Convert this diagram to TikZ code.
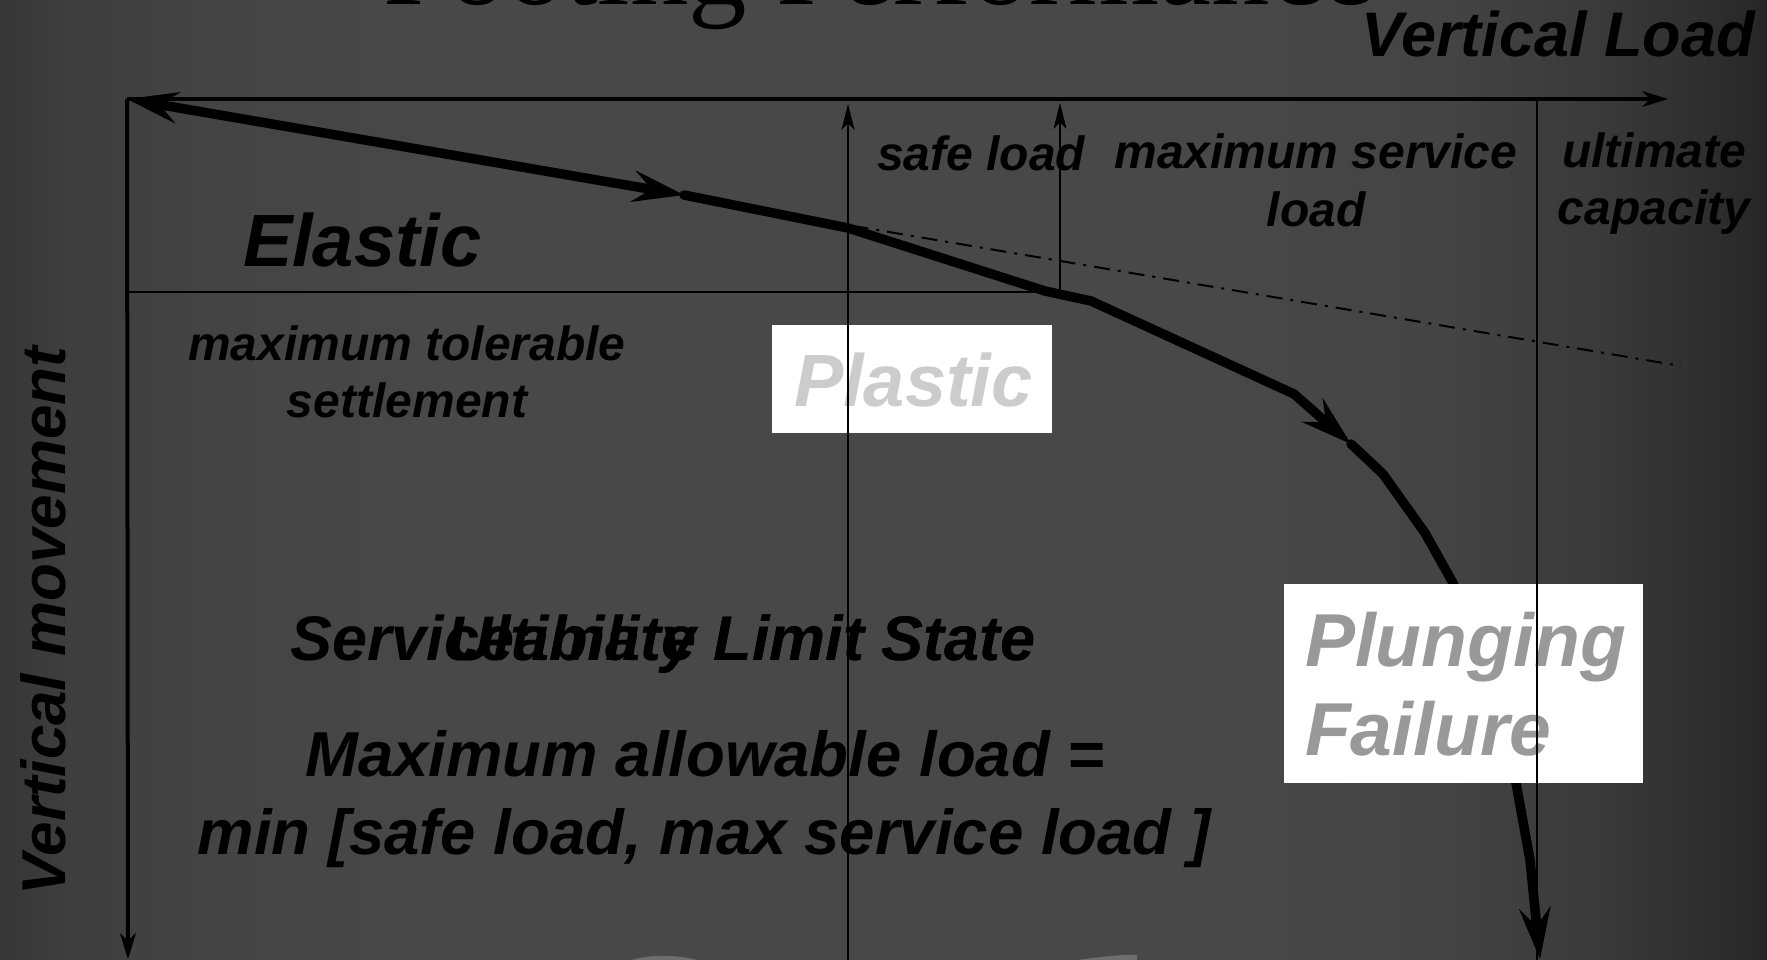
\documentclass[tikz,border=0pt]{standalone}
\usepackage{fontspec}
\setmainfont{Liberation Sans}
\newfontfamily\titlefont{Liberation Serif}
\usetikzlibrary{arrows.meta}

% slide background: dark grey, darker towards the side edges
\definecolor{bgA}{gray}{0.21}
\definecolor{bgB}{gray}{0.24}
\definecolor{bgC}{gray}{0.265}
\definecolor{bgD}{gray}{0.283}
\definecolor{bgE}{gray}{0.283}
\definecolor{bgF}{gray}{0.265}
\definecolor{bgG}{gray}{0.225}
\definecolor{bgH}{gray}{0.185}
\definecolor{bgI}{gray}{0.15}
\pgfdeclarehorizontalshading{slidebg}{100bp}{%
  color(0bp)=(bgA); color(25bp)=(bgA); color(26.7bp)=(bgB);
  color(30.66bp)=(bgC); color(37.73bp)=(bgD); color(58.96bp)=(bgE);
  color(66.03bp)=(bgF); color(70.27bp)=(bgG); color(73.1bp)=(bgH);
  color(75bp)=(bgI); color(100bp)=(bgI)}

\definecolor{plastictext}{gray}{0.80}
\definecolor{plungetext}{gray}{0.60}

\newcommand\bisize[1]{\fontsize{#1}{#1}\selectfont\bfseries\itshape}

\tikzset{
  ctip/.tip={Stealth[length=52pt,width=32pt,inset=19pt,line width=1pt]},
  atip/.tip={Stealth[length=26pt,width=16pt,inset=8pt,line width=0.5pt]},
  gtip/.tip={Stealth[length=26pt,width=13pt,inset=7pt,line width=0.5pt]},
}

\begin{document}
\begin{tikzpicture}[x=1pt,y=-1pt,
  lbl/.style={inner sep=0pt,outer sep=0pt,text=black},
  axisline/.style={line width=4pt,-atip},
  guide/.style={line width=2.5pt},
  guidearrow/.style={guide,-gtip},
  loadcurve/.style={line width=9.5pt,line cap=round,line join=round},
  whitebox/.style={fill=white,inner sep=0pt,outer sep=0pt,anchor=north west},
]
\useasboundingbox (0,0) rectangle (1767,960);
\shade[shading=slidebg] (0,0) rectangle (1767,960);

% faint light fragments at the lower edge
\fill[gray!45!black!60!white,opacity=0.6] (632,960) .. controls (650,954) and (680,955) .. (697,960) -- cycle;
\fill[gray!45!black!60!white,opacity=0.6] (1078,960) .. controls (1100,957) and (1125,954) .. (1137,955) -- (1137,960) -- cycle;

% heading, cut by the upper edge
\node[lbl,anchor=base west,font={\titlefont\fontsize{117}{117}\selectfont}] (title) at (383,5) {Footing Performance};

% axis titles
\node[lbl,anchor=base east,font=\bisize{63}] (vload) at (1755,57) {Vertical Load};
\node[lbl,rotate=90,anchor=base,font=\bisize{62}] (vmove) at (65,621) {Vertical movement};

% region and load labels
\node[lbl,anchor=base west,font=\bisize{74}] (elastic) at (243,266) {Elastic};
\node[lbl,anchor=base west,font=\bisize{48}] (safe) at (877,171) {safe load};
\node[lbl,anchor=base,font=\bisize{48}] (msl1) at (1316,169) {maximum service};
\node[lbl,anchor=base,font=\bisize{48}] (msl2) at (1316,226) {load};
\node[lbl,anchor=base,font=\bisize{48}] (ult1) at (1654,168) {ultimate};
\node[lbl,anchor=base,font=\bisize{48}] (ult2) at (1654,225) {capacity};
\node[lbl,anchor=base,font=\bisize{48}] (mts1) at (407,360) {maximum tolerable};
\node[lbl,anchor=base,font=\bisize{48}] (mts2) at (407,417) {settlement};

% limit states, printed on top of each other
\node[lbl,anchor=base east,font=\bisize{63}] (sls) at (1036,660) {Serviceability Limit State};
\node[lbl,anchor=base east,font=\bisize{63}] (uls) at (1036,660) {Ultimate Limit State};

\node[lbl,anchor=base,font=\bisize{63.5}] (mal1) at (705,776) {Maximum allowable load =};
\node[lbl,anchor=base,font=\bisize{63.5}] (mal2) at (704,854) {min [safe load, max service load ]};

% axes
\coordinate (O) at (127,99);
\coordinate (xend) at (1668,99);
\coordinate (yend) at (128,959);
\draw[axisline] (O) -- (xend);
\draw[axisline] (O) -- (yend);

% reference lines
\coordinate (h1) at (1045,292);
\draw[guide] (127,292) coordinate (h0) -- (h1);
\draw[line width=2pt,dash pattern=on 16pt off 8pt on 3pt off 8pt] (818,220) coordinate (d0) -- (1681,366) coordinate (d1);

% load-settlement curve
\coordinate (A) at (684,195);
\coordinate (B) at (1351,444);
\coordinate (E) at (1540,959);
\draw[loadcurve,ctip-ctip] (O) -- (A);
\draw[loadcurve,-ctip] (A) -- (848,228) -- (1045,291) -- (1091,301) -- (1294,394) -- (B);
\draw[loadcurve,-ctip] (B) -- (1383,474) -- (1425,533) -- (1453,583) -- (1490,690)
  -- (1516,783) -- (1530,860) -- (E);

% highlighted regions
\node[whitebox,minimum width=280pt,minimum height=108pt] (plasticbox) at (772,325) {};
\node[lbl,anchor=base west,font=\bisize{74},text=plastictext] (plastic) at (794,406) {Plastic};
\node[whitebox,minimum width=359pt,minimum height=199pt] (plungebox) at (1284,584) {};
\node[lbl,anchor=base west,font=\bisize{75},text=plungetext] (plunge1) at (1305,666) {Plunging};
\node[lbl,anchor=base west,font=\bisize{75},text=plungetext] (plunge2) at (1305,755) {Failure};

% vertical load markers
\coordinate (v1top) at (848,104);
\coordinate (v1bot) at (848,960);
\coordinate (v2top) at (1060,103);
\coordinate (v2bot) at (1060,289);
\coordinate (v3top) at (1537,99);
\coordinate (v3bot) at (1537,960);
\draw[guidearrow] (v1bot) -- (v1top);
\draw[guidearrow] (v2bot) -- (v2top);
\draw[guide] (v3top) -- (v3bot);
\end{tikzpicture}
\end{document}
